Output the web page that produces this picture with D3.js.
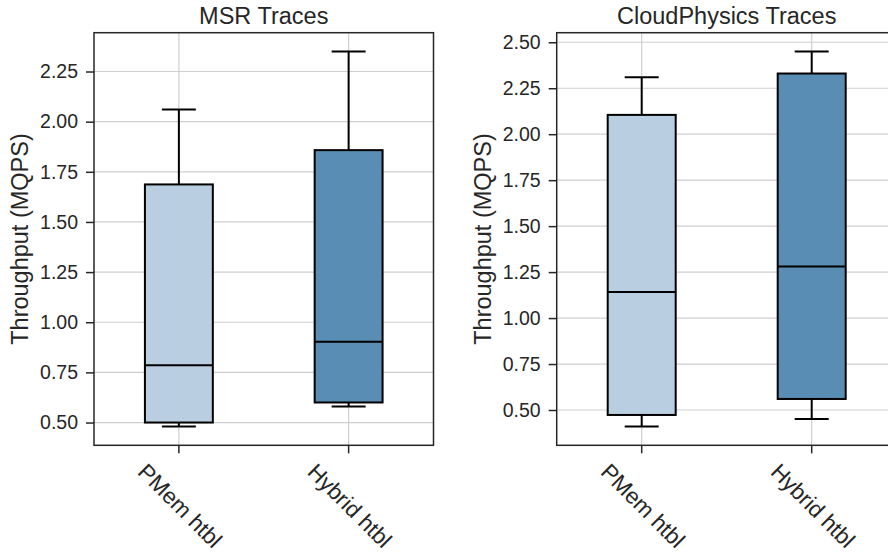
<html>
<head>
  <meta charset="utf-8">
  <script src="https://d3js.org/d3.v7.min.js"></script>
  <style>
    body { margin: 0; background: #fff; }
    text { font-family: "Liberation Sans", Arial, sans-serif; fill: #262626; }
  </style>
  <script>
    // categories and box stats
    var categories = ["PMem htbl", "Hybrid htbl"];
    var panelTitles = ["MSR Traces", "CloudPhysics Traces"];
    var boxColors = ["#b9cee0", "#5a8db4"];

    var msrLow  = [0.48, 0.58];
    var msrQ1   = [0.50, 0.60];
    var msrMed  = [0.785, 0.903];
    var msrQ3   = [1.687, 1.858];
    var msrHigh = [2.06, 2.35];

    var cpLow   = [0.41, 0.451];
    var cpQ1    = [0.473, 0.56];
    var cpMed   = [1.142, 1.281];
    var cpQ3    = [2.105, 2.33];
    var cpHigh  = [2.31, 2.45];

    var msrTicks = [0.50, 0.75, 1.00, 1.25, 1.50, 1.75, 2.00, 2.25];
    var cpTicks  = [0.50, 0.75, 1.00, 1.25, 1.50, 1.75, 2.00, 2.25, 2.50];

    function drawPanel(svg, p) {
        var top = 32.7, bottom = 445.3;
        var x = d3.scaleBand().domain(categories).range([p.left, p.right]).padding(0);
        var lo = d3.min(p.low), hi = d3.max(p.high), m = (hi - lo) * 0.05;
        var y = d3.scaleLinear().domain([lo - m, hi + m]).range([bottom, top]);
        var w = p.right - p.left, h = bottom - top;
        var bw = x.bandwidth() * 0.4;
        var cx = d => x(d) + x.bandwidth() / 2;

        var g = svg.append("g");
        var clip = "clip" + p.id;
        svg.append("clipPath").attr("id", clip).append("rect")
            .attr("x", p.left).attr("y", top).attr("width", w).attr("height", h);

        // grid
        var grid = g.append("g").attr("clip-path", "url(#" + clip + ")");
        grid.selectAll("line.hg").data(p.ticks).enter().append("line")
            .attr("x1", p.left).attr("x2", p.right)
            .attr("y1", d => y(d)).attr("y2", d => y(d))
            .attr("stroke", "#cfcfcf").attr("stroke-width", 1.2);
        grid.selectAll("line.vg").data(categories).enter().append("line")
            .attr("x1", cx).attr("x2", cx).attr("y1", top).attr("y2", bottom)
            .attr("stroke", "#cfcfcf").attr("stroke-width", 1.2);

        var idx = categories.map((c, i) => i);
        var b = g.append("g");
        // whiskers
        b.selectAll("line.wl").data(idx).enter().append("line")
            .attr("x1", i => cx(categories[i])).attr("x2", i => cx(categories[i]))
            .attr("y1", i => y(p.low[i])).attr("y2", i => y(p.q1[i]))
            .attr("stroke", "#000").attr("stroke-width", 2);
        b.selectAll("line.wh").data(idx).enter().append("line")
            .attr("x1", i => cx(categories[i])).attr("x2", i => cx(categories[i]))
            .attr("y1", i => y(p.high[i])).attr("y2", i => y(p.q3[i]))
            .attr("stroke", "#000").attr("stroke-width", 2);
        // caps
        [p.low, p.high].forEach(function(arr) {
            b.selectAll(null).data(idx).enter().append("line")
                .attr("x1", i => cx(categories[i]) - bw / 4).attr("x2", i => cx(categories[i]) + bw / 4)
                .attr("y1", i => y(arr[i])).attr("y2", i => y(arr[i]))
                .attr("stroke", "#000").attr("stroke-width", 2);
        });
        // boxes
        b.selectAll("rect").data(idx).enter().append("rect")
            .attr("x", i => cx(categories[i]) - bw / 2).attr("width", bw)
            .attr("y", i => y(p.q3[i])).attr("height", i => y(p.q1[i]) - y(p.q3[i]))
            .attr("fill", i => boxColors[i]).attr("stroke", "#000").attr("stroke-width", 2);
        b.selectAll("line.med").data(idx).enter().append("line")
            .attr("x1", i => cx(categories[i]) - bw / 2).attr("x2", i => cx(categories[i]) + bw / 2)
            .attr("y1", i => y(p.med[i])).attr("y2", i => y(p.med[i]))
            .attr("stroke", "#000").attr("stroke-width", 2);

        // spines
        g.append("rect").attr("x", p.left).attr("y", top).attr("width", w).attr("height", h)
            .attr("fill", "none").attr("stroke", "#262626").attr("stroke-width", 1.5);

        // y axis
        var ya = g.append("g").attr("transform", "translate(" + p.left + ",0)")
            .call(d3.axisLeft(y).tickValues(p.ticks).tickFormat(d3.format(".2f")).tickSize(8).tickPadding(8));
        ya.select(".domain").remove();
        ya.selectAll("line").attr("stroke", "#262626").attr("stroke-width", 1.5);
        ya.selectAll("text").attr("font-size", 19.5).attr("fill", "#262626")
            .style("font-family", "'Liberation Sans', Arial, sans-serif");

        // x axis
        var xa = g.append("g").attr("transform", "translate(0," + bottom + ")")
            .call(d3.axisBottom(x).tickSize(8).tickFormat(""));
        xa.select(".domain").remove();
        xa.selectAll("line").attr("stroke", "#262626").attr("stroke-width", 1.5);

        g.selectAll("text.xl").data(categories).enter().append("text")
            .attr("class", "xl")
            .attr("transform", d => "translate(" + (cx(d) + 1) + ",506) rotate(45)")
            .attr("text-anchor", "middle").attr("dominant-baseline", "central")
            .attr("font-size", 22.5).text(d => d);

        // title and y label
        g.append("text").attr("x", (p.left + p.right) / 2).attr("y", 23.5)
            .attr("text-anchor", "middle").attr("font-size", 23.5).text(p.title);
        g.append("text")
            .attr("transform", "translate(" + (p.left - 66) + "," + (top + h / 2) + ") rotate(-90)")
            .attr("text-anchor", "middle").attr("font-size", 23.5).text("Throughput (MQPS)");
    }

    function makeChart() {
        var svg = d3.select("#chart");
        drawPanel(svg, { id: 0, left: 94, right: 433.5, title: panelTitles[0], ticks: msrTicks,
            low: msrLow, q1: msrQ1, med: msrMed, q3: msrQ3, high: msrHigh });
        drawPanel(svg, { id: 1, left: 556.7, right: 896.7, title: panelTitles[1], ticks: cpTicks,
            low: cpLow, q1: cpQ1, med: cpMed, q3: cpQ3, high: cpHigh });
    }
  </script>
</head>

<body onload="makeChart()">
    <svg id="chart" width="888" height="557"></svg>
</body>
</html>
